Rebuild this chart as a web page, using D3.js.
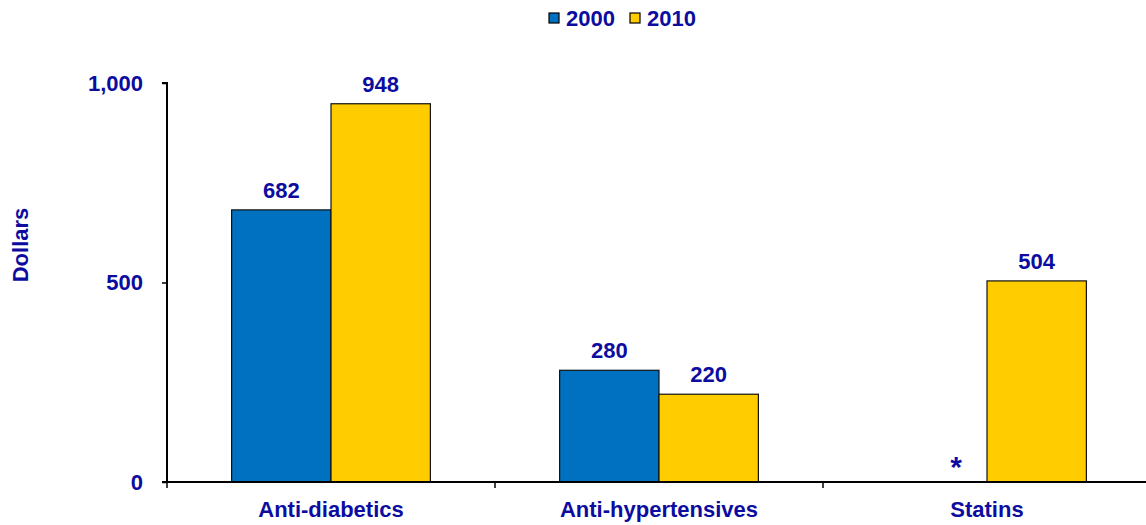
<!DOCTYPE html>
<html><head><meta charset="utf-8">
<script src="https://cdn.jsdelivr.net/npm/d3@7"></script>
<style>body{margin:0;background:#fff}svg{display:block}text{font-family:"Liberation Sans",Arial,sans-serif;font-weight:bold;fill:#0c0ca0}</style>
</head><body><svg id="c" width="1146" height="525"></svg>
<script>
const categories = ["Anti-diabetics", "Anti-hypertensives", "Statins"];
const seriesNames = ["2000", "2010"];
const values2000 = [682, 280, null];
const values2010 = [948, 220, 504];
const yTicks = [0, 500, 1000];
const colors = ["#0070C0", "#FFCC00"];
const missingMark = "*";

const svg = d3.select("#c");
const textColor = "#0c0ca0";
const fs = 22;
const x0 = d3.scaleBand().domain(categories).range([167, 1151]).padding(0);
const bw = x0.bandwidth();
const x1 = d3.scaleBand().domain(seriesNames).range([bw * 0.197, bw * 0.803]).padding(0);
const y = d3.scaleLinear().domain([0, 1000]).range([482, 83]);
const seriesVals = [values2000, values2010];

// bars
categories.forEach((c, i) => {
  seriesNames.forEach((s, j) => {
    const v = seriesVals[j][i];
    const bx = x0(c) + x1(s);
    if (v == null) {
      svg.append("text").attr("x", bx + x1.bandwidth() * 0.69).attr("y", 477)
        .attr("text-anchor", "middle").attr("font-size", 30).text(missingMark);
      return;
    }
    svg.append("rect").attr("x", bx).attr("y", y(v)).attr("width", x1.bandwidth())
      .attr("height", y(0) - y(v)).attr("fill", colors[j]).attr("stroke", "#111").attr("stroke-width", 1.2);
    svg.append("text").attr("x", bx + x1.bandwidth() / 2).attr("y", y(v) - 12)
      .attr("text-anchor", "middle").attr("font-size", fs).text(d3.format(",")(v));
  });
});

// y axis
const yAxis = d3.axisLeft(y).tickValues(yTicks).tickFormat(d3.format(",")).tickSize(5).tickPadding(19);
const gy = svg.append("g").attr("transform", "translate(167,0)").call(yAxis);
gy.select(".domain").attr("stroke", "#000").attr("stroke-width", 2).attr("d", "M-5,83H0V482");
gy.selectAll(".tick line").attr("stroke", "#000").attr("stroke-width", 1.5);
gy.selectAll(".tick text").attr("font-size", fs).attr("fill", textColor)
  .attr("font-family", '"Liberation Sans",Arial,sans-serif').attr("font-weight", "bold");

// x axis
const gx = svg.append("g").attr("transform", "translate(0,482)");
gx.append("line").attr("x1", 162).attr("x2", 1151).attr("y1", 0).attr("y2", 0).attr("stroke", "#000").attr("stroke-width", 2);
const bounds = categories.map(c => x0(c)).concat([x0.range()[1]]);
gx.selectAll("line.tk").data(bounds).join("line").attr("class", "tk")
  .attr("x1", d => d).attr("x2", d => d).attr("y1", 0).attr("y2", 6).attr("stroke", "#000").attr("stroke-width", 1.5);
gx.selectAll("text.cat").data(categories).join("text").attr("class", "cat")
  .attr("x", d => x0(d) + bw / 2).attr("y", 35).attr("text-anchor", "middle").attr("font-size", fs).text(d => d);

// y title
svg.append("text").attr("transform", "translate(28,245) rotate(-90)").attr("text-anchor", "middle")
  .attr("font-size", fs).text("Dollars");

// legend
const legX = [549, 630];
seriesNames.forEach((s, j) => {
  svg.append("rect").attr("x", legX[j]).attr("y", 13).attr("width", 10).attr("height", 10)
    .attr("fill", colors[j]).attr("stroke", "#000").attr("stroke-width", 1.2);
  svg.append("text").attr("x", legX[j] + 17).attr("y", 26).attr("font-size", fs).text(s);
});
</script></body></html>
